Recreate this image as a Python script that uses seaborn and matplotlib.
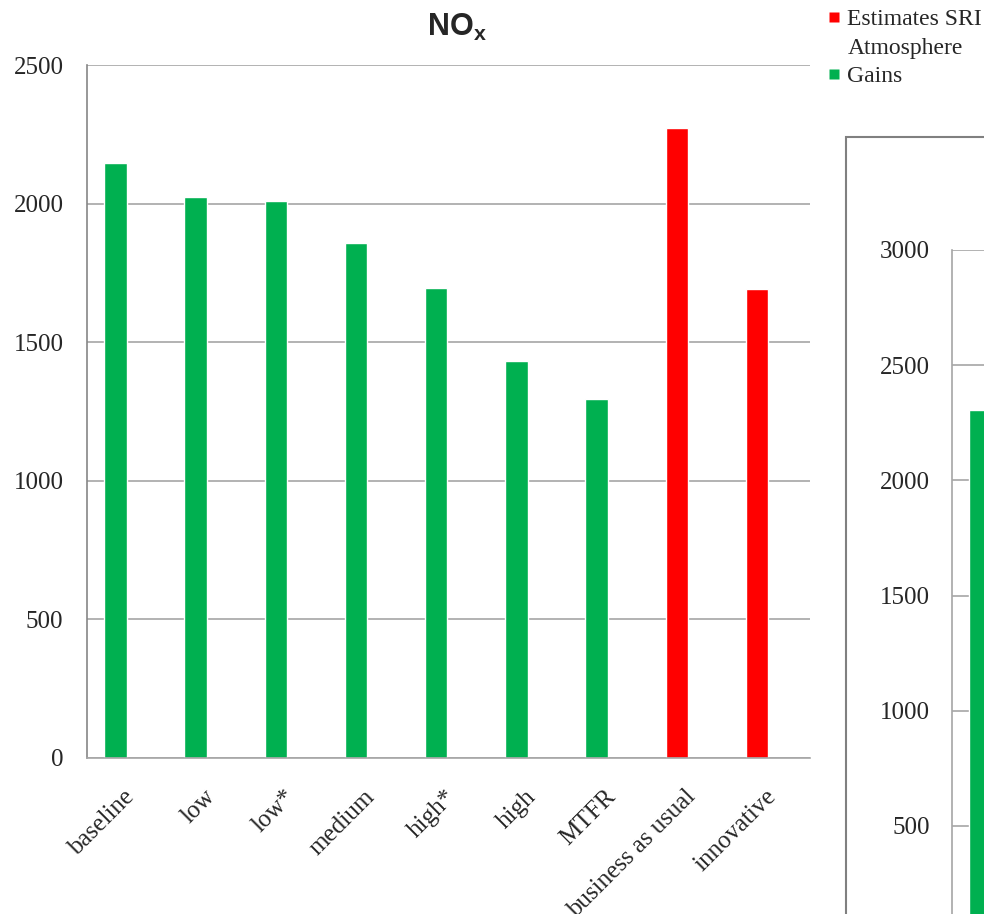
import matplotlib
matplotlib.use("Agg")
import matplotlib.pyplot as plt
import matplotlib.transforms as mtransforms
from matplotlib.lines import Line2D
from matplotlib.patches import Rectangle
import seaborn as sns

categories = ['baseline', 'low', 'low*', 'medium', 'high*', 'high', 'MTFR',
              'business as usual', 'innovative']
values = [2146, 2024, 2009, 1858, 1696, 1432, 1295, 2273, 1692]
series = ['Gains'] * 7 + ['Estimates SRI Atmosphere'] * 2
yticks = [0, 500, 1000, 1500, 2000, 2500]

# second (cut off) chart on the right
second_categories = ['baseline']
second_values = [2305]
second_yticks = [500, 1000, 1500, 2000, 2500, 3000]

green = '#00B050'
red = '#FF0000'
grid_col = '#A6A6A6'
spine_col = '#868686'

sns.set_style('white')
plt.rcParams['font.family'] = ['Liberation Serif', 'DejaVu Serif']
plt.rcParams['mathtext.fontset'] = 'custom'
plt.rcParams['mathtext.bf'] = 'Liberation Sans:bold'
plt.rcParams['mathtext.rm'] = 'Liberation Sans:bold'

W, H = 984, 914
fig = plt.figure(figsize=(W / 100, H / 100), dpi=100)

def px_box(x0, y_top, x1, y_bot):
    return [x0 / W, 1 - y_bot / H, (x1 - x0) / W, (y_bot - y_top) / H]

# main chart
ax = fig.add_axes(px_box(87, 65, 810, 758))
palette = {'Gains': green, 'Estimates SRI Atmosphere': red}
sns.barplot(x=categories, y=values, hue=series, palette=palette, width=0.28,
            dodge=False, legend=False, saturation=1, ax=ax)
ax.set_ylim(0, 2500)
ax.set_xlim(-0.355, len(categories) - 0.34)
ax.set_yticks(yticks)
ax.yaxis.grid(True, color=grid_col, linewidth=1.2)
ax.set_axisbelow(True)
for s in ['top', 'right']:
    ax.spines[s].set_visible(False)
ax.spines['left'].set_color(spine_col)
ax.spines['bottom'].set_color(grid_col)
ax.spines['left'].set_linewidth(1.2)
ax.spines['bottom'].set_linewidth(1.2)
ax.tick_params(axis='y', labelsize=18, pad=17, length=0)
ax.tick_params(axis='x', labelsize=18, pad=20, length=0)
ax.set_xlabel('')
ax.set_ylabel('')
offset = mtransforms.ScaledTranslation(8 / 100, 0, fig.dpi_scale_trans)
for lab in ax.get_xticklabels():
    lab.set_rotation(45)
    lab.set_ha('right')
    lab.set_va('top')
    lab.set_rotation_mode('anchor')
    lab.set_transform(lab.get_transform() + offset)

fig.text(457 / W, 1 - 27 / H, r'$\mathbf{NO_x}$', ha='center', va='center',
         fontsize=22)

# legend
handles = [Line2D([], [], marker='s', color='none', markerfacecolor=red,
                  markeredgecolor='none', markersize=7.5),
           Line2D([], [], marker='s', color='none', markerfacecolor='none',
                  markeredgecolor='none', markersize=7.5),
           Line2D([], [], marker='s', color='none', markerfacecolor=green,
                  markeredgecolor='none', markersize=7.5)]
fig.legend(handles, ['Estimates SRI', 'Atmosphere', 'Gains'], loc='upper left',
           bbox_to_anchor=(819 / W, 1 + 1 / H), frameon=False, fontsize=17,
           handlelength=0.5, handletextpad=0.3, labelspacing=0.3,
           borderaxespad=0)

# frame of the next chart
fig.add_artist(Rectangle((846 / W, -0.1), 0.5, 1 - 137 / H + 0.1,
                         transform=fig.transFigure, fill=False,
                         edgecolor='#808080', linewidth=1.5))

ax2 = fig.add_axes(px_box(952, 250, 1200, 941))
sns.barplot(x=second_categories, y=second_values, color=green, width=0.28,
            saturation=1, ax=ax2)
ax2.set_ylim(0, 3000)
ax2.set_xlim(-0.35, 2.74)
ax2.set_yticks(second_yticks)
ax2.yaxis.grid(True, color=grid_col, linewidth=1.2)
ax2.set_axisbelow(True)
for s in ['top', 'right', 'bottom']:
    ax2.spines[s].set_visible(False)
ax2.spines['left'].set_color(grid_col)
ax2.spines['left'].set_linewidth(1.2)
ax2.tick_params(axis='y', labelsize=18, pad=16, length=0)
ax2.set_xticks([])
ax2.set_xlabel('')
ax2.set_ylabel('')
ax2.patch.set_alpha(0)

fig.savefig('out.png', dpi=100)
